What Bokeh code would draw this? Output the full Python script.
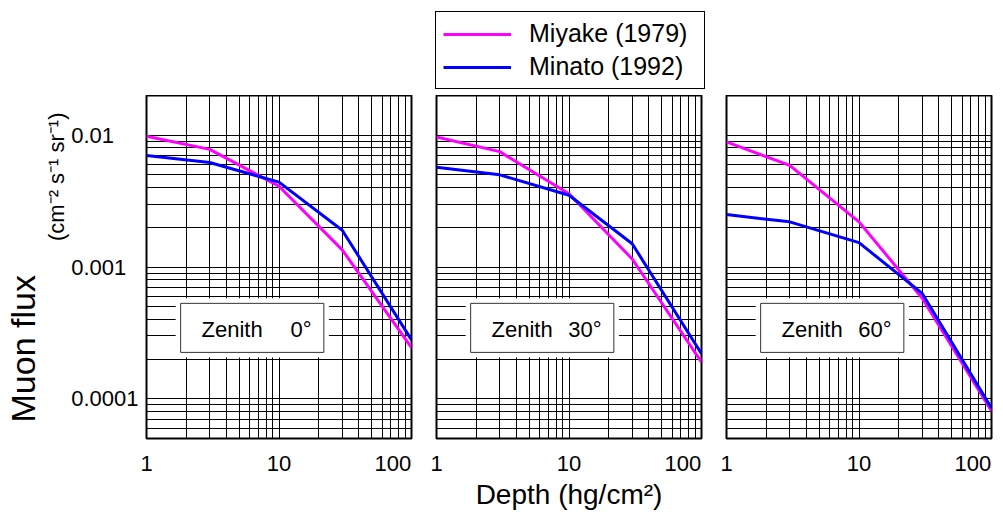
import math
from bokeh.plotting import figure
from bokeh.models import (FixedTicker, Label, BoxAnnotation, Legend, LegendItem, Range1d, Title, Spacer)
from bokeh.layouts import row, column
from bokeh.embed import file_html
from bokeh.resources import INLINE

# ---------------- data ----------------
depth = [1, 3, 10, 30, 100]
zenith_labels = ["0°", "30°", "60°"]

miyake_0 = [0.0098, 0.0078, 0.0041, 0.00135, 0.000245]
miyake_30 = [0.0097, 0.0075, 0.0036, 0.00115, 0.00019]
miyake_60 = [0.0089, 0.0059, 0.0022, 0.00058, 0.000081]

minato_0 = [0.0070, 0.0062, 0.0044, 0.0019, 0.00028]
minato_30 = [0.0057, 0.0050, 0.0035, 0.0015, 0.00022]
minato_60 = [0.0025, 0.0022, 0.00153, 0.00063, 0.000085]

series_names = ["Miyake (1979)", "Minato (1992)"]
x_ticks = [1, 10, 100]
x_tick_labels = ["1", "10", "100"]
y_ticks = [1e-4, 1e-3, 1e-2]
y_tick_labels = ["0.0001", "0.001", "0.01"]

miyake = [miyake_0, miyake_30, miyake_60]
minato = [minato_0, minato_30, minato_60]

# ---------------- style ----------------
FONT = "Liberation Sans"
MAGENTA = "#FF00FF"
BLUE = "#0000FF"
FSP = "\u2007"  # figure space (digit width) used for label alignment

x_minor = [k * d for d in (1, 10) for k in range(2, 10)]
y_minor = [k * d for d in (1e-5, 1e-4, 1e-3) for k in range(2, 10) if k * d >= 5e-5]

x_over = {}
for t, s in zip(x_ticks, x_tick_labels):
    x_over[t] = s + FSP if s == "100" else s
y_over = {}
maxlen = max(len(s) for s in y_tick_labels)
for t, s in zip(y_ticks, y_tick_labels):
    y_over[t] = s + FSP * (maxlen - len(s))


def make(i, width, border_left, first):
    p = figure(width=width, height=417, x_axis_type="log", y_axis_type="log",
               x_range=Range1d(1, 100), y_range=Range1d(5e-5, 0.02),
               output_backend="svg", toolbar_location=None,
               min_border_left=border_left, min_border_right=12,
               min_border_top=0, min_border_bottom=73)
    p.background_fill_color = "white"
    p.border_fill_color = "white"
    p.outline_line_color = "black"
    p.outline_line_width = 2

    xt = FixedTicker(ticks=x_ticks, minor_ticks=x_minor)
    yt = FixedTicker(ticks=y_ticks, minor_ticks=y_minor)
    p.xaxis.ticker = xt
    p.yaxis.ticker = yt
    p.xgrid.ticker = xt
    p.ygrid.ticker = yt
    for g in (p.xgrid, p.ygrid):
        g.grid_line_color = "black"
        g.grid_line_width = 1
        g.minor_grid_line_color = "black"
        g.minor_grid_line_width = 1

    for ax in (p.xaxis, p.yaxis):
        ax.axis_line_color = None
        ax.major_tick_line_color = None
        ax.minor_tick_line_color = None
        ax.major_tick_out = 0
        ax.major_tick_in = 0
        ax.minor_tick_out = 0
        ax.minor_tick_in = 0
        ax.major_label_text_font = FONT
        ax.major_label_text_font_size = "22px"
        ax.major_label_text_color = "black"

    p.xaxis.major_label_overrides = x_over
    p.xaxis.major_label_standoff = 12
    p.yaxis.major_label_overrides = y_over
    p.yaxis.major_label_standoff = 8
    if not first:
        p.yaxis.visible = False

    r_miy = p.line(depth, miyake[i], line_color=MAGENTA, line_width=3)
    r_min = p.line(depth, minato[i], line_color=BLUE, line_width=3)

    # label box
    p.add_layout(BoxAnnotation(left=1.66, right=23.8, bottom=2.06e-4, top=5.8e-4,
                               fill_color="white", fill_alpha=1, line_color=None))
    p.add_layout(BoxAnnotation(left=1.81, right=21.8, bottom=2.25e-4, top=5.3e-4,
                               fill_color="white", fill_alpha=1,
                               line_color="#333333", line_alpha=1, line_width=1))
    p.add_layout(Label(x=55, y=109, x_units="screen", y_units="screen", text="Zenith",
                       text_font=FONT, text_font_size="22px", text_color="black",
                       text_baseline="middle", text_align="left"))
    p.add_layout(Label(x=165, y=109, x_units="screen", y_units="screen", text=zenith_labels[i],
                       text_font=FONT, text_font_size="22px", text_color="black",
                       text_baseline="middle", text_align="right"))
    return p, r_miy, r_min


p1, _, _ = make(0, 423, 146, True)
p2, rm2, rn2 = make(1, 290, 13, False)
p3, _, _ = make(2, 290, 13, False)

# y axis title (two sizes, rotated) as left-side titles
p1.add_layout(Title(text="(cm\u207b\u00b2 s\u207b\u00b9 sr\u207b\u00b9)", align="right", offset=17,
                    standoff=0, text_font=FONT, text_font_size="22px",
                    text_font_style="normal", text_color="black"), "left")
p1.add_layout(Title(text="Muon flux", align="left", offset=16, standoff=0,
                    text_font=FONT, text_font_size="34px",
                    text_font_style="normal", text_color="black"), "left")

# x axis title on middle panel
p2.xaxis.axis_label = "Depth (hg/cm\u00b2)"
p2.xaxis.axis_label_text_font = FONT
p2.xaxis.axis_label_text_font_size = "28px"
p2.xaxis.axis_label_text_font_style = "normal"
p2.xaxis.axis_label_text_color = "black"
p2.xaxis.axis_label_standoff = 0

# legend in its own strip above the middle panel (proxy lines kept out of view)
pl = figure(width=290, height=95, x_range=Range1d(-2, -1), y_range=Range1d(-2, -1),
            output_backend="svg", toolbar_location=None,
            x_axis_location=None, y_axis_location=None, min_border=0)
pl.grid.visible = False
pl.outline_line_color = None
pl.background_fill_color = "white"
pl.border_fill_color = "white"
lm = pl.line(depth, miyake_0, line_color=MAGENTA, line_width=3)
ln = pl.line(depth, minato_0, line_color=BLUE, line_width=3)
legend = Legend(items=[LegendItem(label=series_names[0], renderers=[lm]),
                       LegendItem(label=series_names[1], renderers=[ln])],
                location=(12, 6), orientation="vertical",
                label_text_font=FONT, label_text_font_size="25px", label_text_color="black",
                glyph_width=68, glyph_height=26, label_height=26, label_standoff=18,
                label_width=168, spacing=4, padding=7, margin=0,
                border_line_color="black", border_line_width=1, border_line_alpha=1,
                background_fill_color="white", background_fill_alpha=1)
pl.add_layout(legend)

top = row(Spacer(width=423, height=95), pl, Spacer(width=290, height=95))
layout = column(top, row(p1, p2, p3))
open("out.html", "w").write(file_html(layout, INLINE))
